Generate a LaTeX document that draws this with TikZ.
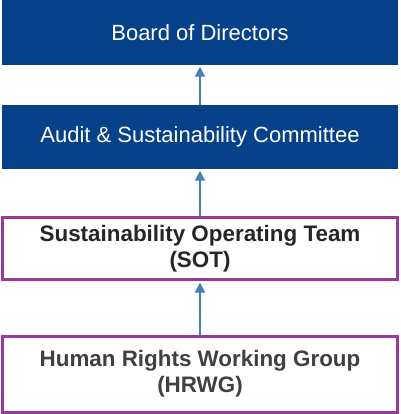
\documentclass[tikz,border=0pt]{standalone}
\usepackage{fontspec}
\setmainfont{Liberation Sans}
\usetikzlibrary{
	arrows.meta,
	positioning,
}
\definecolor{boardblue}{HTML}{06418A}
\definecolor{teampurple}{HTML}{9B3A9E}
\definecolor{linkblue}{HTML}{4A7EBB}
\tikzset{blue box/.style={
	fill=boardblue,
	draw=none,
	inner sep=0mm,
	minimum width=396pt,
	text=white,
	font=\fontsize{22}{25}\selectfont,
}}
\tikzset{purple box/.style={
	draw=teampurple,
	line width=3pt,
	fill=white,
	inner sep=0mm,
	minimum width=395pt,
	align=center,
	font=\bfseries\fontsize{22.4}{26}\selectfont,
}}
\tikzset{link/.style={
	-{Triangle[length=10pt,width=10pt]},
	line width=2pt,
	linkblue,
	shorten >=1.5pt,
}}

\begin{document}
\begin{tikzpicture}[x=1pt,y=-1pt]

\useasboundingbox (0,0) rectangle (400,414);

\node[blue box, minimum height=65pt](board) 	at (200,32.5) {Board of Directors};
\node[blue box, minimum height=64pt](audit) 	at (200,137) {Audit \& Sustainability Committee};
\node[purple box, minimum height=62pt, text=black!85](sot) 	at (200,248.5) {Sustainability Operating Team\\(SOT)};
\node[purple box, minimum height=76pt, text=black!75](hrwg) 	at (200,374) {Human Rights Working Group\\(HRWG)};

% audit -> board
\draw[link] (audit) -- (board);

% sot -> audit
\draw[link] (sot) -- (audit);

% hrwg -> sot
\draw[link] (hrwg) -- (sot);

\end{tikzpicture}
\end{document}
